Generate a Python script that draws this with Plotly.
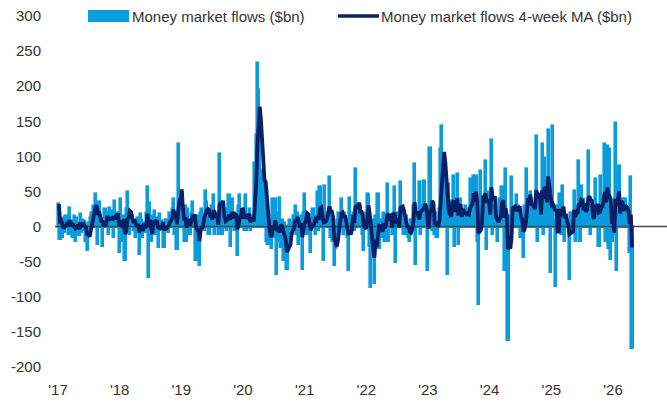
import pandas as pd
import plotly.graph_objects as go

# Weekly money market fund flows ($bn)
flows_2017 = [32, -17, 10, -15, 12, -8, 15, 5, -10, 27, -10, 8, -15, 15, -20, 12, 5, -12, 18, -8,
              10, -5, 8, -20, -34, 5, -10, 12, 20, 30, 15, 46, 30, -25, 35, 15, 5, -27, 10, 25,
              5, 20, -10, 27, 10, 22, -15, 37, 15, 5, 20, -36]
flows_2018 = [39, 10, -20, 15, -47, 25, 49, 25, -10, 20, 15, -5, 10, -15, 8, 12, -39, 18, 10, -15,
              5, -8, 20, 56, -72, 34, -20, 15, 5, 22, -10, 12, -29, 18, -5, 8, 5, -29, 10, 3,
              10, -8, 20, 12, 25, 40, -10, 15, -32, 117, 45, 10]
flows_2019 = [40, 5, -20, 30, -20, 25, 10, -10, 20, 35, 5, 10, -48, 15, 5, -55, 20, 25, 10, -5,
              51, 35, 20, -10, 15, 30, 5, 45, -10, 20, 10, -10, 103, 35, -10, 20, 15, 5, -5, 25,
              45, -27, 25, 40, 10, -5, 20, -41, 30, 45, 20, 10]
flows_2020 = [20, -5, 45, -5, 10, 25, -5, 10, 15, 10, 90, 130, 233, 195, 126, 50, 80, 75, 60, 40,
              -20, -25, 10, -15, -30, 40, -15, 40, -67, 20, -20, 41, -29, 10, -48, 5, -43, -60, -30, 10,
              -20, 5, -10, 15, 30, -10, 20, -25, 10, 15, -60, 20]
flows_2021 = [46, 20, -10, 15, 10, -36, 10, 25, 15, -10, 5, 49, -5, 56, 10, 5, -48, 58, 15, 20,
              10, 70, -15, 20, -20, -55, -30, -10, 10, 20, 5, 40, 15, -10, 20, 10, -15, -62, 41, -10,
              15, 20, -5, 82, 20, 10, 25, 30, 20, -10, -34, 20, 10]
flows_2022 = [46, 45, -28, -86, 10, -20, -81, 15, -30, 46, -30, 10, -15, 5, 20, -20, 15, 60, -20, 10,
              15, -10, 20, 56, -50, 20, 10, 15, 63, 27, 10, -10, 5, 15, -10, -15, -20, 10, 10, 30,
              89, -53, 20, 10, 63, -10, 30, 20, 65, 15, 5, -62]
flows_2023 = [30, 112, 10, -5, 15, -10, 20, -15, 5, 25, 110, 143, 75, 98, 50, 40, -67, 60, 37, 25,
              15, 72, -27, 40, 75, -25, 30, 40, 10, 20, 15, 30, 5, 25, 10, 68, 15, 35, 72, 20,
              72, -20, -110, 30, 79, 20, 40, 35, 93, -32, 50, 30]
flows_2024 = [20, 124, -10, 30, 20, 10, -20, 15, 40, 25, 56, 30, -62, 82, 10, -161, 15, 10, 70, 10,
              20, 15, 45, 20, 30, 20, -15, 10, -43, 30, 20, 82, 20, 30, 50, 20, 30, 10, 40, 129,
              -20, 40, 30, 20, 117, -10, 98, 10, 40, 138, 30, -65]
flows_2025 = [20, 143, 10, -84, 30, 15, 10, 46, -10, 58, 20, -20, 15, 10, 5, -74, 20, 10, 15, 51,
              -20, 30, 20, 94, -20, 58, 15, 40, 20, 10, 25, 107, 30, -10, 20, 15, 20, 68, 10, 30,
              -27, 72, 40, 30, 10, 117, -20, 115, -30, 110, -46, -20]
flows_2026 = [-10, 40, 148, -62, 30, 86, 20, 10, 20, 40, 40, 15, 15, 20, -36, 70, -173]

flows = (flows_2017 + flows_2018 + flows_2019 + flows_2020 + flows_2021 + flows_2022
         + flows_2023 + flows_2024 + flows_2025 + flows_2026)
weeks = pd.date_range(start="2017-01-06", periods=len(flows), freq="W-FRI")
ma4 = pd.Series(flows).rolling(4, min_periods=1).mean()

y_tick_vals = [300, 250, 200, 150, 100, 50, 0, -50, -100, -150, -200]
y_tick_text = ["300", "250", "200", "150", "100", "50", "0", "-50", "-100", "-150", "-200"]
x_tick_vals = pd.date_range("2017-01-01", "2026-01-01", freq="YS")
x_tick_text = ["'17", "'18", "'19", "'20", "'21", "'22", "'23", "'24", "'25", "'26"]

bar_name = "Money market flows ($bn)"
line_name = "Money market flows 4-week MA ($bn)"

BAR_COLOR = "#0A9DDD"
LINE_COLOR = "#0B1F66"
TEXT_COLOR = "#333333"
FONT = "Liberation Sans, Arial, sans-serif"
FS = 15
X_START, X_END = "2016-12-14", "2026-11-17"

fig = go.Figure()
fig.add_trace(go.Bar(
    x=weeks, y=flows, name=bar_name,
    marker=dict(color=BAR_COLOR, line=dict(color=BAR_COLOR, width=2.6)),
    showlegend=False,
))
fig.add_trace(go.Scatter(
    x=[X_START, X_END], y=[0, 0], mode="lines",
    line=dict(color="#4a4a4a", width=1.5), showlegend=False, hoverinfo="skip",
))
fig.add_trace(go.Scatter(
    x=weeks, y=ma4, name=line_name, mode="lines",
    line=dict(color=LINE_COLOR, width=3.8), showlegend=False,
))

L, R, T, B = 55, 0, 16, 35
W, H = 667, 402
pw, ph = W - L - R, H - T - B

def px_x(x):
    return (x - L) / pw

def px_y(y):
    return (H - B - y) / ph

# custom legend
fig.add_shape(type="rect", xref="paper", yref="paper",
              x0=px_x(88), x1=px_x(129), y0=px_y(22), y1=px_y(10),
              fillcolor=BAR_COLOR, line=dict(width=0))
fig.add_shape(type="line", xref="paper", yref="paper",
              x0=px_x(338), x1=px_x(379), y0=px_y(16), y1=px_y(16),
              line=dict(color=LINE_COLOR, width=3.5))
fig.add_annotation(xref="paper", yref="paper", x=px_x(130), y=px_y(16),
                   text=bar_name, showarrow=False, xanchor="left", yanchor="middle",
                   font=dict(size=FS, color=TEXT_COLOR, family=FONT))
fig.add_annotation(xref="paper", yref="paper", x=px_x(379), y=px_y(16),
                   text=line_name, showarrow=False, xanchor="left", yanchor="middle",
                   font=dict(size=FS, color=TEXT_COLOR, family=FONT))

fig.update_layout(
    width=W, height=H,
    margin=dict(l=L, r=R, t=T, b=B, pad=0),
    paper_bgcolor="white", plot_bgcolor="white",
    bargap=0, showlegend=False,
    font=dict(family=FONT, size=FS, color=TEXT_COLOR),
    xaxis=dict(type="date", range=[X_START, X_END], tickvals=x_tick_vals, ticktext=x_tick_text,
               showgrid=False, zeroline=False, showline=False,
               ticks="outside", ticklen=9, tickcolor="rgba(0,0,0,0)",
               tickfont=dict(size=FS, color=TEXT_COLOR)),
    yaxis=dict(range=[-200, 300], tickvals=y_tick_vals, ticktext=y_tick_text,
               showgrid=False, zeroline=False, showline=False,
               ticks="outside", ticklen=10, tickcolor="rgba(0,0,0,0)",
               tickfont=dict(size=FS, color=TEXT_COLOR)),
)

fig.write_html("out.html", config={"displayModeBar": False},
               post_script="document.body.style.margin='0px';")
